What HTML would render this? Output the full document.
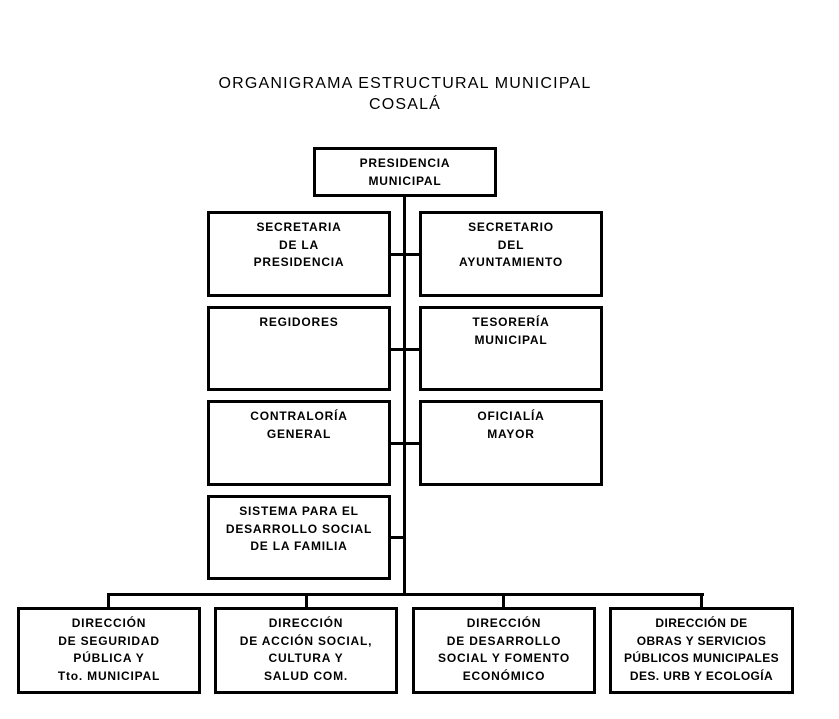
<!DOCTYPE html>
<html><head><meta charset="utf-8"><style>
body{margin:0;width:839px;height:719px;background:#fff;position:relative;overflow:hidden;font-family:"Liberation Sans",Arial,sans-serif;}
.b{position:absolute;border:3px solid #000;box-sizing:border-box;text-align:center;font-weight:bold;font-size:12px;line-height:17.5px;letter-spacing:0.8px;padding-top:5px;color:#000;}
.l{position:absolute;background:#000;}
.t{position:absolute;left:0;width:810px;text-align:center;font-size:16px;letter-spacing:1.2px;line-height:21px;}
</style></head><body>
<div class="t" style="top:73px">ORGANIGRAMA ESTRUCTURAL MUNICIPAL<br>COSALÁ</div>
<div class="l" style="left:403px;top:195px;width:3px;height:401px"></div>
<div class="l" style="left:107px;top:593px;width:597px;height:3px"></div>
<div class="l" style="left:107px;top:593px;width:3px;height:16px"></div>
<div class="l" style="left:305px;top:593px;width:3px;height:16px"></div>
<div class="l" style="left:502px;top:593px;width:3px;height:16px"></div>
<div class="l" style="left:700px;top:593px;width:3px;height:16px"></div>
<div class="l" style="left:388px;top:253px;width:33px;height:3px"></div>
<div class="l" style="left:388px;top:348px;width:33px;height:3px"></div>
<div class="l" style="left:388px;top:442px;width:33px;height:3px"></div>
<div class="l" style="left:388px;top:536px;width:17px;height:3px"></div>
<div class="b" style="left:313px;top:147px;width:184px;height:50px">PRESIDENCIA<br>MUNICIPAL</div>
<div class="b" style="left:207px;top:211px;width:184px;height:86px">SECRETARIA<br>DE LA<br>PRESIDENCIA</div>
<div class="b" style="left:419px;top:211px;width:184px;height:86px">SECRETARIO<br>DEL<br>AYUNTAMIENTO</div>
<div class="b" style="left:207px;top:306px;width:184px;height:85px">REGIDORES</div>
<div class="b" style="left:419px;top:306px;width:184px;height:85px">TESORERÍA<br>MUNICIPAL</div>
<div class="b" style="left:207px;top:400px;width:184px;height:86px">CONTRALORÍA<br>GENERAL</div>
<div class="b" style="left:419px;top:400px;width:184px;height:86px">OFICIALÍA<br>MAYOR</div>
<div class="b" style="left:207px;top:495px;width:184px;height:85px">SISTEMA PARA EL<br>DESARROLLO SOCIAL<br>DE LA FAMILIA</div>
<div class="b" style="left:17px;top:607px;width:184px;height:87px">DIRECCIÓN<br>DE SEGURIDAD<br>PÚBLICA Y<br>Tto. MUNICIPAL</div>
<div class="b" style="left:214px;top:607px;width:184px;height:87px">DIRECCIÓN<br>DE ACCIÓN SOCIAL,<br>CULTURA Y<br>SALUD COM.</div>
<div class="b" style="left:412px;top:607px;width:184px;height:87px">DIRECCIÓN<br>DE DESARROLLO<br>SOCIAL Y FOMENTO<br>ECONÓMICO</div>
<div class="b" style="left:609px;top:607px;width:185px;height:87px;letter-spacing:0.4px">DIRECCIÓN DE<br>OBRAS Y SERVICIOS<br>PÚBLICOS MUNICIPALES<br>DES. URB Y ECOLOGÍA</div>
</body></html>
